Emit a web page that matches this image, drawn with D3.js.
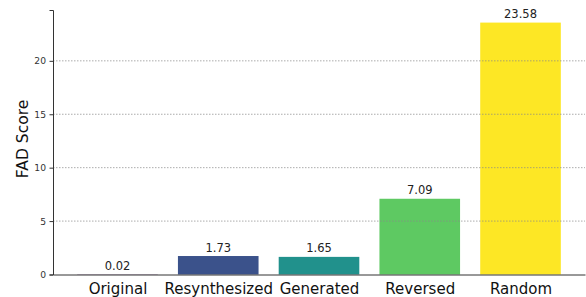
<!DOCTYPE html>
<html>
<head>
<meta charset="utf-8">
<script src="https://cdn.jsdelivr.net/npm/d3@7"></script>
<style>
  body { margin: 0; background: #fff; }
  svg { font-family: "DejaVu Sans", sans-serif; }
  .grid line { stroke: #888; stroke-dasharray: 1.5 1.5; stroke-width: 0.7; }
</style>
</head>
<body>
<svg id="chart" width="586" height="297"></svg>
<script>
const categories = ['Original', 'Resynthesized', 'Generated', 'Reversed', 'Random'];
const scores = [0.02, 1.73, 1.65, 7.09, 23.58];
const colors = ['#440154', '#3b528b', '#21918c', '#5ec962', '#fde725'];
const yTicks = [0, 5, 10, 15, 20];

const margin = { left: 53, right: 1, top: 10, bottom: 22 };
const width = 586 - margin.left - margin.right;
const height = 297 - margin.top - margin.bottom - 0.5;

const svg = d3.select('#chart');
const g = svg.append('g')
  .attr('transform', `translate(${margin.left},${margin.top})`);

// matplotlib-style: bar width 0.8, 5% margin on each side
const x = d3.scaleLinear()
  .domain([-0.64, categories.length - 1 + 0.64])
  .range([0, width]);

const y = d3.scaleLinear()
  .domain([0, d3.max(scores) * 1.05])
  .range([height, 0]);

g.selectAll('rect.bar')
  .data(scores)
  .enter()
  .append('rect')
  .attr('class', 'bar')
  .attr('x', (d, i) => x(i - 0.4))
  .attr('width', x(0.4) - x(-0.4))
  .attr('y', d => y(d))
  .attr('height', d => y(0) - y(d))
  .attr('fill', (d, i) => colors[i]);

// grid on top of bars
g.append('g')
  .attr('class', 'grid')
  .selectAll('line')
  .data(yTicks.filter(t => t > 0))
  .enter()
  .append('line')
  .attr('x1', 0)
  .attr('x2', width)
  .attr('y1', d => y(d))
  .attr('y2', d => y(d));

g.selectAll('text.val')
  .data(scores)
  .enter()
  .append('text')
  .attr('class', 'val')
  .attr('x', (d, i) => x(i))
  .attr('y', d => y(d) - 4.5)
  .attr('text-anchor', 'middle')
  .attr('font-size', 11.5)
  .attr('fill', '#222')
  .text(d => d.toFixed(2));

const yAxis = d3.axisLeft(y)
  .tickValues(yTicks)
  .tickSize(3.5)
  .tickPadding(3.5);

const ya = g.append('g').call(yAxis);
ya.select('.domain').attr('stroke', '#333').attr('stroke-width', 1);
ya.selectAll('.tick line').attr('stroke', '#333');
ya.selectAll('text').attr('font-size', 9.2).attr('fill', '#333')
  .attr('font-family', '"DejaVu Sans", sans-serif');

const xAxis = d3.axisBottom(x)
  .tickValues(d3.range(categories.length))
  .tickFormat(i => categories[i])
  .tickSize(0)
  .tickPadding(9);

const xa = g.append('g')
  .attr('transform', `translate(0,${height})`)
  .call(xAxis);
xa.select('.domain').attr('stroke', '#333').attr('stroke-width', 1);
xa.selectAll('text').attr('font-size', 15).attr('fill', '#111')
  .attr('font-family', '"DejaVu Sans", sans-serif');

g.append('text')
  .attr('transform', 'rotate(-90)')
  .attr('x', -(y(0) + y(25)) / 2 + 2)
  .attr('y', -25)
  .attr('text-anchor', 'middle')
  .attr('font-size', 15.5)
  .attr('fill', '#111')
  .text('FAD Score');
</script>
</body>
</html>
